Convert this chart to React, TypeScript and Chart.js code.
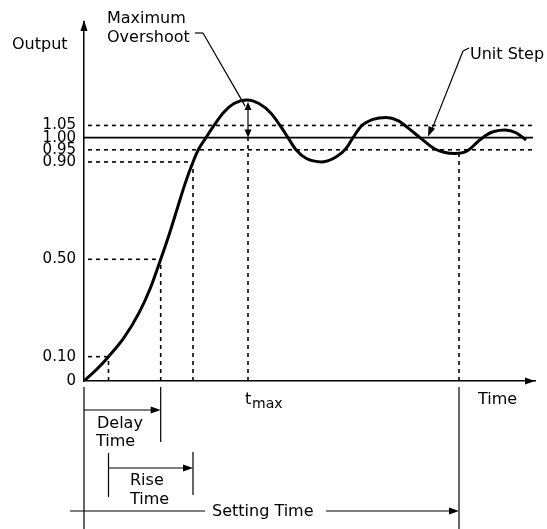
import React, { useEffect, useRef } from 'react';
import { Chart, registerables } from 'chart.js';

Chart.register(...registerables);

// ---- data ----
const timeValues = [0, 1.2, 2.45, 4.0, 5.5, 6.6, 7.67, 8.5, 9.3, 10.1, 10.9, 11.5, 12.2, 13.0, 14.0, 15.0, 16.3, 17.5, 18.7, 19.6, 20.4, 21.2, 22.2, 23.8, 25.2, 26.2, 26.9, 27.8, 28.9, 30.2, 31.4, 32.4, 33.6, 35.0, 36.0, 37.1, 38.3, 39.3, 40.2, 41.0, 42.1, 43.2, 44.2];
const outputValues = [0, 0.045, 0.10, 0.178, 0.28, 0.378, 0.50, 0.60, 0.705, 0.81, 0.90, 0.955, 1.00, 1.05, 1.105, 1.14, 1.155, 1.14, 1.10, 1.05, 1.00, 0.95, 0.915, 0.90, 0.92, 0.955, 1.00, 1.05, 1.075, 1.083, 1.07, 1.04, 1.00, 0.955, 0.94, 0.935, 0.945, 0.98, 1.01, 1.025, 1.031, 1.02, 0.99];

const yTickValues = [0, 0.1, 0.5, 0.9, 0.95, 1.0, 1.05];

const unitStep = 1.0;
const bandUpper = 1.05;
const bandLower = 0.95;
const riseUpper = 0.9;
const delayLevel = 0.5;
const riseLower = 0.1;
const peakValue = 1.155;
const settleTroughValue = 0.935;

const tRiseStart = 2.45;
const tDelay = 7.67;
const tRiseEnd = 10.9;
const tMax = 16.4;
const tSettle = 37.5;
const tUnitStepArrow = 34.4;
const tLineEnd = 44.9;
const xMax = 45.1;
const yMax = 1.475;

const FONT = '"DejaVu Sans", sans-serif';

function seg(x1: number, y1: number, x2: number, y2: number) {
  return [{ x: x1, y: y1 }, { x: x2, y: y2 }];
}

function head(ctx: CanvasRenderingContext2D, x1: number, y1: number, x2: number, y2: number, len = 9, hw = 3.5) {
  const a = Math.atan2(y2 - y1, x2 - x1);
  const bx = x2 - len * Math.cos(a);
  const by = y2 - len * Math.sin(a);
  ctx.beginPath();
  ctx.moveTo(x2, y2);
  ctx.lineTo(bx + hw * Math.sin(a), by - hw * Math.cos(a));
  ctx.lineTo(bx - hw * Math.sin(a), by + hw * Math.cos(a));
  ctx.closePath();
  ctx.fill();
}

function line(ctx: CanvasRenderingContext2D, x1: number, y1: number, x2: number, y2: number) {
  ctx.beginPath();
  ctx.moveTo(x1, y1);
  ctx.lineTo(x2, y2);
  ctx.stroke();
}

const annotations = {
  id: 'annotations',
  afterDraw(chart: any) {
    const { ctx, chartArea: ca, scales } = chart;
    const X = (t: number) => scales.x.getPixelForValue(t);
    const Y = (v: number) => scales.y.getPixelForValue(v);
    const b = ca.bottom;
    ctx.save();
    ctx.fillStyle = '#000';
    ctx.strokeStyle = '#000';
    ctx.lineWidth = 1.2;

    // axis arrows
    head(ctx, X(0), ca.top + 20, X(0), ca.top - 2, 11, 3.5);
    head(ctx, ca.right - 20, b, ca.right, b, 10, 3.5);

    ctx.font = '16px ' + FONT;
    ctx.textBaseline = 'alphabetic';
    ctx.textAlign = 'left';
    ctx.fillText('Output', 12, 49);
    ctx.fillText('Time', 478, b + 23);

    // Maximum overshoot
    ctx.fillText('Maximum', 107, 23);
    ctx.fillText('Overshoot', 107, 41.5);
    line(ctx, 195, 33, 203, 33);
    line(ctx, 203, 33, X(tMax) - 3, Y(peakValue) + 6);
    // double arrow peak <-> 1.0
    const yp = Y(peakValue) + 2;
    const y1 = Y(unitStep);
    line(ctx, X(tMax), yp + 6, X(tMax), y1 - 6);
    head(ctx, X(tMax), yp + 12, X(tMax), yp, 8, 3.5);
    head(ctx, X(tMax), y1 - 12, X(tMax), y1, 8, 3.5);

    // Unit step
    ctx.fillText('Unit Step', 470, 59);
    line(ctx, 463, 51, 469, 48);
    line(ctx, 463, 51, X(tUnitStepArrow) + 3, Y(unitStep) - 6);
    head(ctx, 463, 51, X(tUnitStepArrow), Y(unitStep) - 1, 10, 3.5);

    // t max label
    ctx.font = '16px ' + FONT;
    ctx.fillText('t', X(tMax) - 3, b + 23);
    ctx.font = '14px ' + FONT;
    ctx.fillText('max', X(tMax) + 4, b + 27);

    // Delay time
    ctx.font = '16px ' + FONT;
    line(ctx, X(0), b + 6, X(0), 529);
    line(ctx, X(tDelay), b + 6, X(tDelay), b + 61);
    line(ctx, X(0), b + 29, X(tDelay) - 6, b + 29);
    head(ctx, X(0), b + 29, X(tDelay), b + 29, 10, 3.5);
    ctx.fillText('Delay', 97, b + 46.5);
    ctx.fillText('Time', 96, b + 65);

    // Rise time
    line(ctx, X(tRiseStart), b + 72, X(tRiseStart), b + 116);
    line(ctx, X(tRiseEnd), b + 71, X(tRiseEnd), b + 114);
    line(ctx, X(tRiseStart), b + 87, X(tRiseEnd) - 6, b + 87);
    head(ctx, X(tRiseStart), b + 87, X(tRiseEnd), b + 87, 10, 3.5);
    ctx.fillText('Rise', 130, b + 104);
    ctx.fillText('Time', 130, b + 123);

    // Settling time
    line(ctx, X(tSettle), b + 6, X(tSettle), 529);
    line(ctx, 70, b + 130, 205, b + 130);
    ctx.fillText('Setting Time', 212, b + 135);
    line(ctx, 326, b + 130, X(tSettle) - 6, b + 130);
    head(ctx, 326, b + 130, X(tSettle), b + 130, 10, 3.5);

    ctx.restore();
  },
};

export default function App() {
  const ref = useRef<HTMLCanvasElement>(null);

  useEffect(() => {
    if (!ref.current) return;
    const dashed = (data: any) => ({
      data,
      borderColor: '#000',
      borderWidth: 1.6,
      borderDash: [4, 4],
      pointRadius: 0,
      fill: false,
    });
    const chart = new Chart(ref.current, {
      type: 'line',
      data: {
        datasets: [
          {
            label: 'Output',
            data: timeValues.map((t, i) => ({ x: t, y: outputValues[i] })),
            borderColor: '#000',
            borderWidth: 3,
            pointRadius: 0,
            cubicInterpolationMode: 'monotone',
            fill: false,
          },
          {
            label: 'Unit Step',
            data: seg(0, unitStep, tLineEnd, unitStep),
            borderColor: '#000',
            borderWidth: 1.6,
            pointRadius: 0,
            fill: false,
          },
          dashed(seg(0.4, bandUpper, tLineEnd, bandUpper)),
          dashed(seg(0.4, bandLower, tLineEnd, bandLower)),
          dashed(seg(0.4, riseUpper, tRiseEnd, riseUpper)),
          dashed(seg(0.4, delayLevel, tDelay, delayLevel)),
          dashed(seg(0.4, riseLower, tRiseStart, riseLower)),
          dashed(seg(tRiseStart, 0, tRiseStart, riseLower)),
          dashed(seg(tDelay, 0, tDelay, delayLevel)),
          dashed(seg(tRiseEnd, 0, tRiseEnd, riseUpper)),
          dashed(seg(tMax, 0, tMax, unitStep)),
          dashed(seg(tSettle, 0, tSettle, settleTroughValue)),
        ] as any,
      },
      options: {
        responsive: false,
        animation: false,
        devicePixelRatio: 1,
        events: [],
        layout: { padding: { top: 22, right: 12, left: 0, bottom: 0 } },
        plugins: { legend: { display: false }, tooltip: { enabled: false } },
        scales: {
          x: {
            type: 'linear',
            min: 0,
            max: xMax,
            grid: { display: false, drawTicks: false },
            border: { display: true, color: '#000', width: 1.5 },
            ticks: { display: false },
            afterFit: (s: any) => { s.height = 148; },
          },
          y: {
            type: 'linear',
            min: 0,
            max: yMax,
            grid: { display: false, drawTicks: false },
            border: { display: true, color: '#000', width: 1.5 },
            afterBuildTicks: (axis: any) => { axis.ticks = yTickValues.map((v) => ({ value: v })); },
            ticks: {
              autoSkip: false,
              padding: 8,
              color: '#000',
              font: { family: FONT, size: 15 },
              callback: (v: any) => (Number(v) === 0 ? '0' : Number(v).toFixed(2)),
            },
            afterFit: (s: any) => { s.width = 84; },
          },
        },
      } as any,
      plugins: [annotations],
    });
    return () => chart.destroy();
  }, []);

  return (
    <div style={{ position: 'absolute', left: 0, top: 0, width: 547, height: 529, background: '#fff' }}>
      <canvas ref={ref} width={547} height={529} style={{ display: 'block' }} />
    </div>
  );
}
